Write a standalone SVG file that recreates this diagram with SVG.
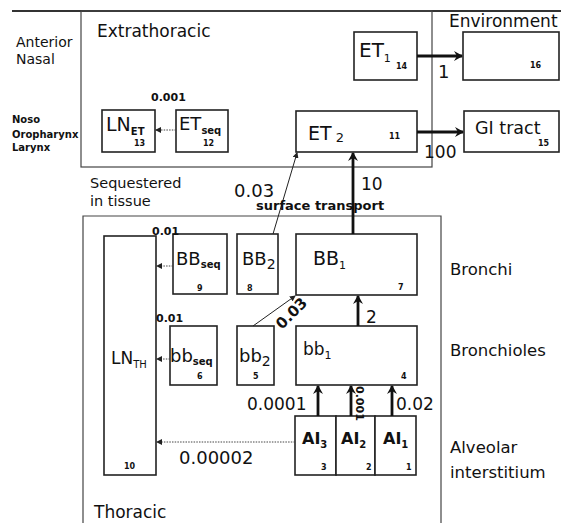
<svg xmlns="http://www.w3.org/2000/svg" width="561" height="523" viewBox="0 0 561 523">
<defs>
<style>
text{font-family:"DejaVu Sans","Liberation Sans",Arial,sans-serif;fill:#111}
.box{fill:#fff;stroke:#222;stroke-width:1.6}
.region{fill:none;stroke:#444;stroke-width:1.2}
.thick{stroke:#111;stroke-width:2.8;fill:none}
.thin{stroke:#222;stroke-width:1;fill:none}
.dot{stroke:#444;stroke-width:1;stroke-dasharray:1.5 1.2;fill:none}
.num{font-size:8px;font-weight:bold}
.b{font-weight:bold}
</style>
<marker id="ah" markerWidth="10" markerHeight="10" refX="8" refY="5" orient="auto" markerUnits="userSpaceOnUse">
<path d="M0,0 L9,5 L0,10 L3,5 Z" fill="#111"/>
</marker>
<marker id="as" markerWidth="6" markerHeight="6" refX="5" refY="3" orient="auto" markerUnits="userSpaceOnUse">
<path d="M0,0 L6,3 L0,6 Z" fill="#222"/>
</marker>
</defs>
<rect width="561" height="523" fill="#fff"/>

<!-- regions -->
<g id="regions">
<line x1="12" y1="11" x2="561" y2="11" stroke="#333" stroke-width="2"/>
<rect class="region" x="81" y="11" width="351" height="156"/>
<path class="region" d="M83,523 L83,216 L441,216 L441,523"/>
<text x="97" y="37" style="font-size:17px">Extrathoracic</text>
<text x="449" y="27" style="font-size:17px">Environment</text>
<text x="16" y="47" style="font-size:14px">Anterior</text>
<text x="16" y="64" style="font-size:14px">Nasal</text>
<text x="12" y="123" style="font-size:10px" class="b">Noso</text>
<text x="12" y="138" style="font-size:10px" class="b">Oropharynx</text>
<text x="12" y="151" style="font-size:10px" class="b">Larynx</text>
<text x="90" y="188" style="font-size:14.5px">Sequestered</text>
<text x="90" y="206" style="font-size:14.5px">in tissue</text>
<text x="94" y="518" style="font-size:17px">Thoracic</text>
<text x="450" y="275" style="font-size:16.5px">Bronchi</text>
<text x="450" y="356" style="font-size:16.5px">Bronchioles</text>
<text x="450" y="453" style="font-size:16.5px">Alveolar</text>
<text x="450" y="478" style="font-size:16.5px">interstitium</text>
</g>

<!-- nodes -->
<g id="LN_ET"><rect class="box" x="102" y="110" width="53" height="42"/>
<text x="106" y="131" style="font-size:19px">LN<tspan dy="4" style="font-size:10px" class="b">ET</tspan></text>
<text x="134" y="146" class="num">13</text></g>

<g id="ET_seq"><rect class="box" x="176" y="110" width="52" height="42"/>
<text x="179" y="130" style="font-size:18px">ET<tspan dy="4" style="font-size:10px" class="b">seq</tspan></text>
<text x="203" y="146" class="num">12</text></g>

<g id="ET1"><rect class="box" x="354" y="32" width="63" height="48"/>
<text x="359" y="57" style="font-size:20px">ET<tspan dy="5" style="font-size:11px">1</tspan></text>
<text x="396" y="69" class="num">14</text></g>

<g id="Env"><rect class="box" x="463" y="32" width="96" height="48"/>
<text x="530" y="68" class="num">16</text></g>

<g id="ET2"><rect class="box" x="296" y="111" width="121" height="41"/>
<text x="308" y="140" style="font-size:19px">ET<tspan dx="4" dy="2" style="font-size:13px">2</tspan></text>
<text x="389" y="139" class="num">11</text></g>

<g id="GI"><rect class="box" x="464" y="111" width="95" height="41"/>
<text x="475" y="134" style="font-size:17.5px">GI tract</text>
<text x="538" y="146" class="num">15</text></g>

<g id="LN_TH"><rect class="box" x="104" y="236" width="52" height="239"/>
<text x="111" y="364" style="font-size:17px">LN<tspan dy="4" style="font-size:10px">TH</tspan></text>
<text x="124" y="469" class="num">10</text></g>

<g id="BB_seq"><rect class="box" x="173" y="234" width="54" height="60"/>
<text x="176" y="265" style="font-size:18px">BB<tspan dy="3" style="font-size:10px" class="b">seq</tspan></text>
<text x="197" y="291" class="num">9</text></g>

<g id="BB2"><rect class="box" x="237" y="234" width="41" height="60"/>
<text x="242" y="265" style="font-size:18px">BB<tspan dy="4" style="font-size:14px">2</tspan></text>
<text x="247" y="291" class="num">8</text></g>

<g id="BB1"><rect class="box" x="296" y="234" width="121" height="61"/>
<text x="313" y="265" style="font-size:19px">BB<tspan dy="4" style="font-size:11px">1</tspan></text>
<text x="398" y="290" class="num">7</text></g>

<g id="bb_seq"><rect class="box" x="170" y="326" width="47" height="59"/>
<text x="170" y="362" style="font-size:18px">bb<tspan dy="3" style="font-size:10px" class="b">seq</tspan></text>
<text x="197" y="379" class="num">6</text></g>

<g id="bb2"><rect class="box" x="237" y="326" width="37" height="59"/>
<text x="239" y="362" style="font-size:18px">bb<tspan dy="4" style="font-size:14px">2</tspan></text>
<text x="253" y="379" class="num">5</text></g>

<g id="bb1"><rect class="box" x="296" y="326" width="121" height="59"/>
<text x="303" y="355" style="font-size:17px">bb<tspan dy="4" style="font-size:11px">1</tspan></text>
<text x="401" y="379" class="num">4</text></g>

<g id="AI3"><rect class="box" x="295" y="416" width="41" height="59"/>
<text x="302" y="444" style="font-size:16px" class="b">AI<tspan dy="4" style="font-size:10px">3</tspan></text>
<text x="321" y="470" class="num">3</text></g>

<g id="AI2"><rect class="box" x="336" y="416" width="39" height="59"/>
<text x="341" y="444" style="font-size:16px" class="b">AI<tspan dy="4" style="font-size:10px">2</tspan></text>
<text x="366" y="470" class="num">2</text></g>

<g id="AI1"><rect class="box" x="375" y="416" width="41" height="59"/>
<text x="383" y="444" style="font-size:16px" class="b">AI<tspan dy="4" style="font-size:10px">1</tspan></text>
<text x="406" y="470" class="num">1</text></g>

<!-- connectors -->
<g id="connectors">
<line class="thick" x1="417" y1="56" x2="462" y2="56" marker-end="url(#ah)"/>
<line class="thick" x1="417" y1="132" x2="463" y2="132" marker-end="url(#ah)"/>
<line class="thick" x1="353" y1="234" x2="353" y2="153" marker-end="url(#ah)"/>
<line class="thick" x1="358" y1="326" x2="358" y2="296" marker-end="url(#ah)"/>
<line class="thick" x1="318" y1="416" x2="318" y2="386" marker-end="url(#ah)"/>
<line class="thick" x1="351" y1="416" x2="351" y2="386" marker-end="url(#ah)"/>
<line class="thick" x1="392" y1="416" x2="392" y2="386" marker-end="url(#ah)"/>
<line class="thin" x1="273" y1="234" x2="297" y2="153" marker-end="url(#as)"/>
<line class="thin" x1="253" y1="326" x2="295" y2="296" marker-end="url(#as)"/>
<line class="dot" x1="176" y1="130" x2="156" y2="130" marker-end="url(#as)"/>
<line class="dot" x1="173" y1="266" x2="157" y2="266" marker-end="url(#as)"/>
<line class="dot" x1="170" y1="359" x2="157" y2="359" marker-end="url(#as)"/>
<line class="dot" x1="295" y1="442" x2="157" y2="442" marker-end="url(#as)"/>
<text x="151" y="101" style="font-size:11px" class="b">0.001</text>
<text x="438" y="78" style="font-size:18px">1</text>
<text x="424" y="158" style="font-size:17px">100</text>
<text x="361" y="190" style="font-size:17px">10</text>
<text x="234" y="197" style="font-size:18px">0.03</text>
<text x="256" y="210" style="font-size:13px" class="b">surface transport</text>
<text x="152" y="235" style="font-size:11px" class="b">0.01</text>
<text x="156" y="322" style="font-size:11px" class="b">0.01</text>
<text x="366" y="323" style="font-size:17px">2</text>
<text transform="translate(282,330) rotate(-45)" style="font-size:15px" class="b">0.03</text>
<text x="247" y="410" style="font-size:17px">0.0001</text>
<text x="396" y="410" style="font-size:17px">0.02</text>
<text transform="translate(356,386) rotate(90)" style="font-size:11px" class="b">0.001</text>
<text x="179" y="464" style="font-size:18px">0.00002</text>
</g>
</svg>
